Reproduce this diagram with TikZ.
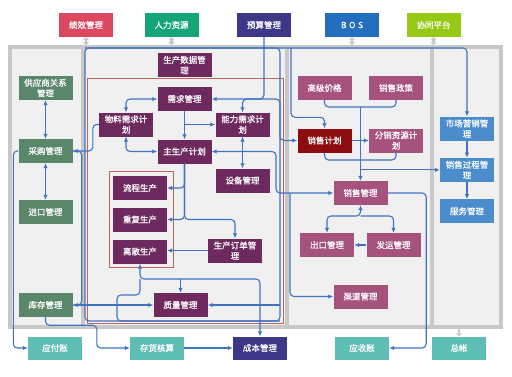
\documentclass[tikz,border=0pt]{standalone}
\usepackage{fontspec}
\newfontfamily\cjk[FakeBold=0.6]{Noto Sans CJK SC}
\usetikzlibrary{arrows.meta,positioning,calc}
\definecolor{erpred}{RGB}{220,72,95}
\definecolor{erpgreen}{RGB}{22,165,120}
\definecolor{erpindigo}{RGB}{60,55,135}
\definecolor{erpblue}{RGB}{35,110,190}
\definecolor{erplime}{RGB}{150,200,22}
\definecolor{erpsage}{RGB}{90,135,105}
\definecolor{erpplum}{RGB}{110,42,95}
\definecolor{erpmauve}{RGB}{165,82,125}
\definecolor{erpmaroon}{RGB}{140,12,16}
\definecolor{erpsky}{RGB}{75,140,205}
\definecolor{erpteal}{RGB}{95,190,180}
\definecolor{erplink}{RGB}{65,115,195}
\definecolor{erpframe}{RGB}{200,200,200}
\definecolor{erppanel}{RGB}{240,240,240}
\definecolor{erpbrick}{RGB}{190,100,90}
\tikzset{
  mblk/.style={rectangle, draw=none, text=white, align=center,
               font=\cjk\fontsize{8.5}{10.5}\selectfont, minimum width=54pt, minimum height=24pt, inner sep=1pt},
  lnk/.style={line width=1.1pt, erplink, rounded corners=4pt},
  larr/.style={lnk, -{Latex[length=5pt,width=4.5pt]}},
  lbarr/.style={lnk, {Latex[length=5pt,width=4.5pt]}-{Latex[length=5pt,width=4.5pt]}},
  garr/.style={line width=2.5pt, erpframe, {Triangle[length=3pt,width=6pt]}-{Triangle[length=3pt,width=6pt]}},
  garr1/.style={line width=2.5pt, erpframe, -{Triangle[length=3pt,width=6pt]}},
}

\begin{document}
\begin{tikzpicture}[x=1pt,y=-1pt,node distance=17pt]
        \useasboundingbox (0,0) rectangle (512,376);
        \fill[white](0,0) rectangle (512,376);
        \draw[line width=4pt,erpframe,fill=erppanel](10,46.5) rectangle (501,327);
        \draw[line width=4pt,erpframe](82.5,46.5) -- (82.5,327) (286.5,46.5) -- (286.5,327) (431.5,46.5) -- (431.5,327);
        \draw[erpbrick,line width=0.8pt](87,78) rectangle (283.5,323.5);
        \draw[erpbrick,line width=0.8pt](109,171) rectangle (173,267);
        \coordinate (pnw) at (85,48); \coordinate (pse) at (280,321);
        \coordinate (bosj) at (291,48); \coordinate (mjx) at (276,0); \coordinate (qdj) at (290,193);
        \coordinate (sj) at (360.5,107); \coordinate (sm) at (360.5,160); \coordinate (xb) at (360.5,216);
        \coordinate (qa) at (117,305); \coordinate (qt) at (180.5,279);
        \draw[lnk](pnw) rectangle (pse);

        \node[mblk,fill=erpred](jx) at (86,25){绩效管理};
        \node[mblk,fill=erpgreen](rl) at (171.5,25){人力资源};
        \node[mblk,fill=erpindigo](ysgl) at (264,25){预算管理};
        \node[mblk,fill=erpblue](bos) at (352,25){\addfontfeature{LetterSpace=30}BOS};
        \node[mblk,fill=erplime](xt) at (433.5,25){协同平台};

        \node[mblk,fill=erpsage](gys) at (45.5,88){供应商关系\\管理};
        \node[mblk,fill=erpsage](cg) at (45.5,151){采购管理};
        \node[mblk,fill=erpsage](jk) at (45.5,212){进口管理};
        \node[mblk,fill=erpsage](kc) at (45.5,305){库存管理};

        \node[mblk,fill=erpplum](sjgl) at (184.5,65){生产数据管\\理};
        \node[mblk,fill=erpplum](xq) at (184.5,99){需求管理};
        \node[mblk,fill=erpplum](wl) at (126,124.5){物料需求计\\划};
        \node[mblk,fill=erpplum](nl) at (242.5,124.5){能力需求计\\划};
        \node[mblk,fill=erpplum](zsc) at (184.5,151.5){主生产计划};
        \node[mblk,fill=erpplum](sb) at (242.5,180.5){设备管理};
        \node[mblk,fill=erpplum](lc) at (140,188){流程生产};
        \node[mblk,fill=erpplum](cf) at (140,219.5){重复生产};
        \node[mblk,fill=erpplum](ls) at (140,251.5){离散生产};
        \node[mblk,fill=erpplum](dd) at (235,250.5){生产订单管\\理};
        \node[mblk,fill=erpplum](zl) at (180.5,305){质量管理};

        \node[mblk,fill=erpmauve](gj) at (324.5,88){高级价格};
        \node[mblk,fill=erpmauve](zc) at (396,88){销售政策};
        \node[mblk,fill=erpmaroon](xsjh) at (324.5,140.5){销售计划};
        \node[mblk,fill=erpmauve](fx) at (396,140.5){分销资源计\\划};
        \node[mblk,fill=erpmauve](xs) at (360.5,193){销售管理};
        \node[mblk,fill=erpmauve](ck) at (327,245){出口管理};
        \node[mblk,fill=erpmauve](fy) at (393.5,245){发运管理};
        \node[mblk,fill=erpmauve](qd) at (360.5,296.5){渠道管理};

        \node[mblk,fill=erpsky](sc) at (467,128.5){市场营销管\\理};
        \node[mblk,fill=erpsky,below=of sc](gc){销售过程管\\理};
        \node[mblk,fill=erpsky,below=of gc](fw){服务管理};

        \node[mblk,fill=erpteal,minimum height=23pt](yf) at (55,348){应付账};
        \node[mblk,fill=erpteal,minimum height=23pt](ch) at (157,348){存货核算};
        \node[mblk,fill=erpindigo,minimum height=23pt](cb) at (260,348){成本管理};
        \node[mblk,fill=erpteal,minimum height=23pt](ysz) at (362,348){应收账};
        \node[mblk,fill=erpteal,minimum height=23pt](zz) at (459,348){总帐};

        \draw[garr](jx.south) -- ++(0,8);\draw[garr](rl.south) -- ++(0,8);\draw[garr](bos.south) -- ++(0,8);\draw[garr](xt.south) -- ++(0,8);
        \draw[garr1]([yshift=10pt]zz.north) -- (zz.north);

        \draw[larr](pnw) -| (sc.north);
        \draw[larr](ysgl.south) |- (xq.east);
        \draw[larr](ysgl.south |- xq.east) -| (nl.north);
        \draw[larr](ysgl.south |- xq.east) -- (pse |- xq.east) |- (xsjh.west);
        \draw[larr](bosj) |- ([yshift=11pt]xsjh.north) -- (xsjh.north);
        \draw[lbarr](xq.west) -| (wl.north);\draw[larr](xq.south) -- (zsc.north);\draw[larr](xq.south |- nl.west) -- (nl.west);
        \draw[lbarr](wl.south) |- (zsc.west);\draw[lbarr](nl.south) -- (sb.north);
        \draw[lbarr](zsc.east) -- (zsc.east -| mjx) |- (xs.west);
        \draw[larr](qdj) |- (qd.west);

        \draw[larr](xsjh.east) -- (fx.west);
        \draw[lnk](gj.south) |- (sj) -| (zc.south);\draw[larr](sj) -- (xs.north);
        \draw[lnk](xsjh.south) |- (sm) -| (fx.south);
        \draw[larr](xs.north |- gc.west) -- (gc.west);
        \draw[lbarr](xs.south) -- (xb) -| (ck.north);\draw[larr](xb) -| (fy.north);
        \draw[larr](fy.west) -- (ck.east);
        \draw[larr](xs.east) -- ++(38.5,0) |- (ysz.east);
        \draw[larr](sc) -- (gc);\draw[larr](gc) -- (fw);

        \draw[lbarr](gys) -- (cg);\draw[lbarr](cg) -- (jk);
        \draw[larr](cg.west) -- ++(-5,0) |- (yf.west);
        \draw[larr](kc.south) -- ++(0,8) -| ($(ch.west)+(-33,0)$) |- (ch.west);
        \draw[larr](wl.west) -- ++(-6,0) |- (cg.east);
        \draw[lnk](cg.east) -- ++(9,0) |- (kc.east);
        \draw[lbarr](kc.east) -- (zl.west);

        \draw[larr](zsc.south) |- (lc.east);\draw[larr](zsc.south) |- (cf.east);
        \draw[larr](zsc.south) |- (dd.north |- cf.east) -- (dd.north);
        \draw[larr](dd.west) -- (dd.west -| ls.east);
        \draw[larr](qt) -| (ls.south);\draw[larr](qt) -| (cb.north);\draw[larr](qt) -- (zl.north);
        \draw[lnk](qa) -- ++(0,-10) -| (ls.south |- qt);
        \draw[lnk](qa) |- (pse);
        \draw[larr](pse |- zl.east) -- (zl.east);
        \draw[larr](ch) -- (cb);
    \end{tikzpicture}
\end{document}
